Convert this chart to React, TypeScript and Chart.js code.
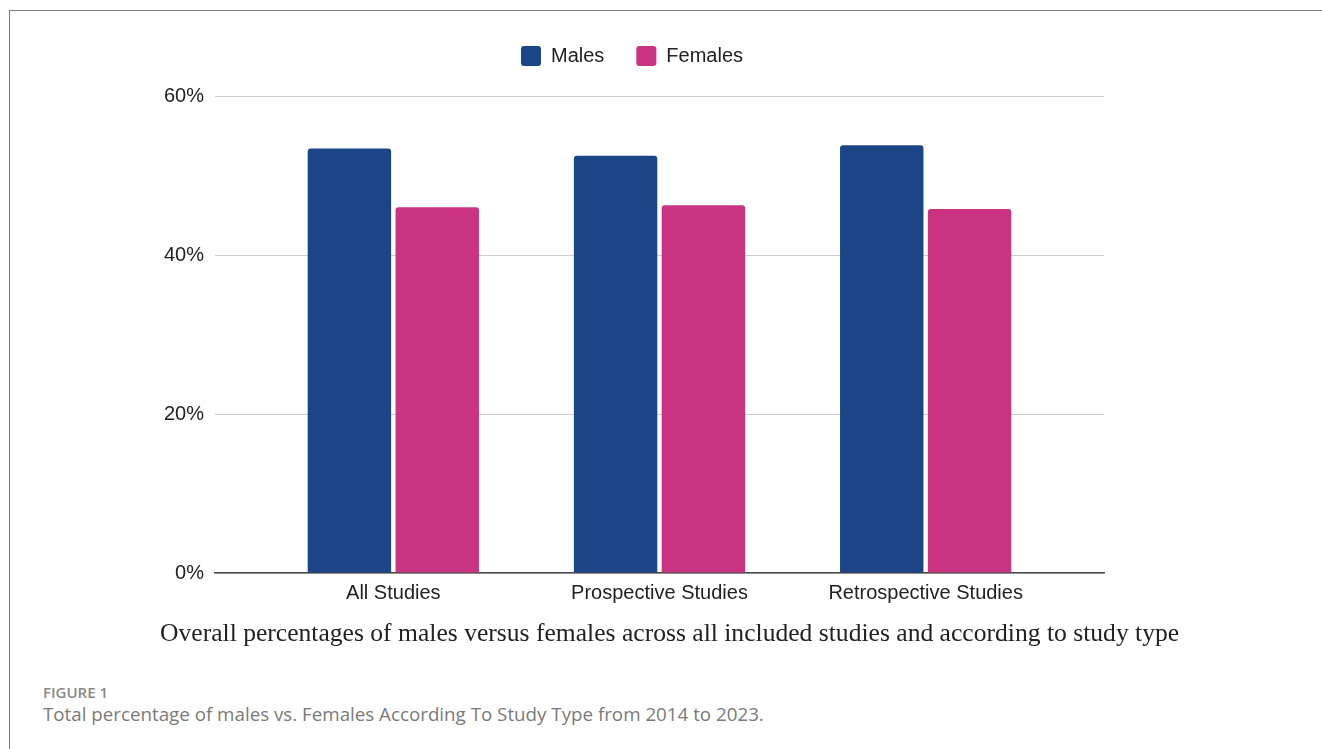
import React, { useEffect, useRef } from "react";
import { Chart, registerables } from "chart.js";

Chart.register(...registerables);

const categories = ["All Studies", "Prospective Studies", "Retrospective Studies"];
const malesValues = [53.4, 52.5, 53.8];
const femalesValues = [46.0, 46.25, 45.8];
const yTicks = [0, 20, 40, 60];

const MALE_COLOR = "#1c4587";
const FEMALE_COLOR = "#ca3382";
const LEGEND_EXTRA = 20;

const legendSpacer = {
  id: "legendSpacer",
  beforeInit(chart: any) {
    const legend = chart.legend;
    if (!legend) return;
    const origFit = legend.fit;
    legend.fit = function () {
      origFit.call(this);
      this.height += LEGEND_EXTRA;
    };
  },
};

export default function App() {
  const canvasRef = useRef<HTMLCanvasElement | null>(null);

  useEffect(() => {
    const canvas = canvasRef.current;
    if (!canvas) return;
    const font = { family: "'Liberation Sans', Arial, sans-serif", size: 20 };
    const chart = new Chart(canvas, {
      type: "bar",
      data: {
        datasets: [
          {
            label: "Males",
            data: categories.map((_, i) => ({ x: i, y: malesValues[i] })),
            backgroundColor: MALE_COLOR,
            borderWidth: 0,
            borderRadius: 3,
            barPercentage: 0.95,
            categoryPercentage: 0.66,
          },
          {
            label: "Females",
            data: categories.map((_, i) => ({ x: i, y: femalesValues[i] })),
            backgroundColor: FEMALE_COLOR,
            borderWidth: 0,
            borderRadius: 3,
            barPercentage: 0.95,
            categoryPercentage: 0.66,
          },
        ],
      },
      options: {
        responsive: false,
        animation: false,
        layout: { padding: { left: 160, right: 218, top: 14, bottom: 7 } },
        plugins: {
          legend: {
            position: "top",
            labels: {
              font,
              color: "#222",
              boxWidth: 20,
              boxHeight: 20,
              padding: 32,
              useBorderRadius: true,
              borderRadius: 3,
            },
          },
          tooltip: { enabled: false },
        },
        scales: {
          x: {
            type: "linear",
            min: -0.67,
            max: 2.67,
            offset: false,
            afterBuildTicks: (scale: any) => {
              scale.ticks = categories.map((_, i) => ({ value: i }));
            },
            afterFit: (scale: any) => {
              scale.height = 40;
            },
            ticks: {
              font,
              color: "#222",
              padding: 8,
              autoSkip: false,
              maxRotation: 0,
              callback: (v: any) => categories[Math.round(Number(v))] ?? "",
            },
            grid: { display: false, drawTicks: false },
            border: { display: true, color: "#4a4a4a", width: 1.5 },
          },
          y: {
            min: 0,
            max: 60,
            afterBuildTicks: (scale: any) => {
              scale.ticks = yTicks.map((v) => ({ value: v }));
            },
            afterFit: (scale: any) => {
              scale.width = 55;
            },
            ticks: {
              font,
              color: "#222",
              padding: 11,
              callback: (v: any) => `${v}%`,
            },
            grid: { color: "#cccccc", lineWidth: 1, drawTicks: false },
            border: { display: false },
          },
        },
      },
      plugins: [legendSpacer],
    } as any);
    return () => chart.destroy();
  }, []);

  return (
    <div
      style={{
        position: "absolute",
        left: 0,
        top: 0,
        width: 1322,
        height: 749,
        overflow: "hidden",
        background: "#fff",
      }}
    >
      <div
        style={{
          position: "absolute",
          left: 9,
          top: 10,
          width: 1400,
          height: 800,
          borderLeft: "1px solid #7a7a7a",
          borderTop: "1px solid #7a7a7a",
        }}
      />
      <canvas
        ref={canvasRef}
        width={1322}
        height={620}
        style={{ position: "absolute", left: 0, top: 0, width: 1322, height: 620 }}
      />
      <div
        style={{
          position: "absolute",
          left: 160,
          top: 620,
          whiteSpace: "nowrap",
          fontFamily: "'Liberation Serif', 'Times New Roman', serif",
          fontSize: 25.6,
          lineHeight: "25.6px",
          color: "#222",
        }}
      >
        Overall percentages of males versus females across all included studies and according to study type
      </div>
      <div
        style={{
          position: "absolute",
          left: 43,
          top: 685,
          whiteSpace: "nowrap",
          fontFamily: "'Open Sans', sans-serif",
          fontWeight: 600,
          fontSize: 15,
          lineHeight: "15px",
          color: "#888",
        }}
      >
        FIGURE 1
      </div>
      <div
        style={{
          position: "absolute",
          left: 43,
          top: 705,
          whiteSpace: "nowrap",
          fontFamily: "'Open Sans', sans-serif",
          fontSize: 18.75,
          lineHeight: "18.75px",
          color: "#7a7a7a",
        }}
      >
        Total percentage of males vs. Females According To Study Type from 2014 to 2023.
      </div>
    </div>
  );
}
